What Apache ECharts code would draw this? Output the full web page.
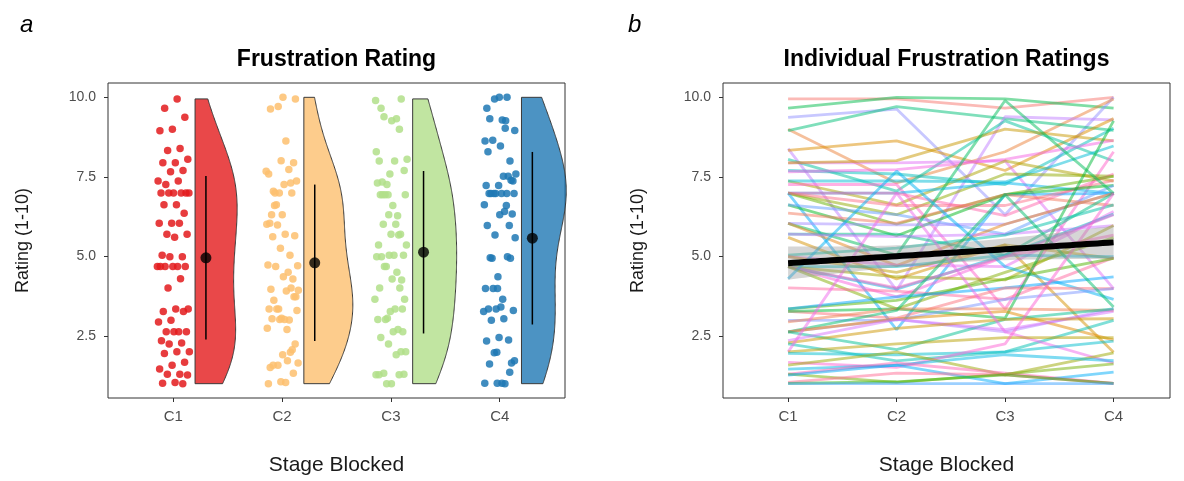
<!DOCTYPE html>
<html><head><meta charset="utf-8">
<script src="https://cdn.jsdelivr.net/npm/echarts@6/dist/echarts.min.js"></script>
<style>html,body{margin:0;padding:0;background:#fff}#c{width:1184px;height:481px}</style>
</head><body><div id="c"></div>
<script>
// ---------------- data ----------------
const categories = ['C1', 'C2', 'C3', 'C4'];
const yTicks = [2.5, 5, 7.5, 10];
const c1 = [9.95,9.66,9.37,9.0,8.95,8.39,8.33,8.05,7.94,7.94,7.70,7.66,7.37,7.37,7.26,6.99,6.99,6.99,6.99,6.99,6.99,6.62,6.62,6.36,6.04,6.04,6.04,5.70,5.70,5.60,5.04,4.99,4.99,4.68,4.68,4.68,4.68,4.68,4.68,4.30,4.01,3.35,3.35,3.27,3.27,2.99,2.94,2.63,2.63,2.63,2.63,2.35,2.28,2.25,2.0,2.0,1.95,1.67,1.58,1.46,1.30,1.30,1.27,1.04,1.01,1.0];
const c2 = [9.95,10.0,9.63,7.31,9.71,3.94,8.63,7.05,7.94,8.01,7.59,7.73,6.62,7.37,7.26,6.31,6.99,6.99,6.01,2.70,6.60,5.65,6.31,6.04,5.04,5.99,4.71,5.70,5.62,4.29,5.26,4.73,4.50,4.68,3.73,4.36,3.97,4.01,3.35,7.68,3.91,3.62,3.73,3.06,3.35,3.00,3.35,3.30,3.02,3.04,2.07,3.02,2.74,1.72,6.99,2.25,1.91,1.51,1.99,1.58,1.65,1.04,1.58,1.33,1.06,1.0];
const c3 = [9.66,9.95,6.31,8.29,9.33,9.39,7.70,9.26,8.00,9.00,7.26,8.05,8.00,7.34,3.35,7.59,7.31,6.28,6.94,6.94,6.60,6.94,5.70,6.94,9.90,6.01,6.01,5.04,5.70,5.36,5.67,4.68,5.36,5.04,4.99,4.26,5.04,4.99,4.50,4.68,3.65,4.29,4.01,4.01,3.06,3.65,3.35,6.94,2.63,3.27,3.02,2.70,3.02,2.00,2.63,2.45,2.00,2.25,1.28,1.91,1.33,1.30,1.0,1.28,1.28,1.0];
const c4 = [10.0,9.66,10.0,9.95,8.96,9.29,9.33,8.00,3.99,8.63,9.03,8.65,7.37,8.47,8.29,7.52,6.98,7.59,7.52,6.98,7.39,7.23,7.23,6.60,6.98,6.98,6.98,6.98,5.97,1.99,6.62,6.41,4.94,6.33,6.31,5.97,4.99,5.67,5.59,3.65,4.96,4.94,4.36,3.99,9.26,3.99,3.30,3.41,3.35,2.37,3.35,3.27,3.04,2.99,1.65,2.45,2.34,6.98,1.97,1.72,1.01,1.62,1.36,1.01,1.01,1.00];
const groupColors = ['#e31a1c', '#fdbf6f', '#b2df8a', '#1f78b4'];

// ---------------- helpers ----------------
const groups = [c1, c2, c3, c4];
const FONT = 'Liberation Sans, Arial, sans-serif';
function mean(a){ return a.reduce((s,v)=>s+v,0)/a.length; }
function sdev(a){ const m=mean(a); return Math.sqrt(a.reduce((s,v)=>s+(v-m)*(v-m),0)/(a.length-1)); }
function quant(a,p){ const s=[...a].sort((x,y)=>x-y); const h=(s.length-1)*p; const lo=Math.floor(h); const hi=Math.min(lo+1,s.length-1); return s[lo]+(h-lo)*(s[hi]-s[lo]); }
function bwNrd0(a){ const s=sdev(a); const iqr=(quant(a,0.75)-quant(a,0.25))/1.34; let lo=Math.min(s,iqr); if(!(lo>0)) lo=s; return 0.9*lo*Math.pow(a.length,-0.2); }
function rgba(hex, a){ const n=parseInt(hex.slice(1),16); return 'rgba('+((n>>16)&255)+','+((n>>8)&255)+','+(n&255)+','+a+')'; }
function hcl2hex(h, c, l){
  const hr=h*Math.PI/180, U=c*Math.cos(hr), V=c*Math.sin(hr);
  const Xn=95.047, Yn=100, Zn=108.883;
  const den=Xn+15*Yn+3*Zn, un=4*Xn/den, vn=9*Yn/den;
  const Y = l>8 ? Yn*Math.pow((l+16)/116,3) : Yn*l/903.3;
  const u=U/(13*l)+un, v=V/(13*l)+vn;
  const X=Y*9*u/(4*v), Z=Y*(12-3*u-20*v)/(4*v);
  const x=X/100, y=Y/100, z=Z/100;
  const lin=[3.2404542*x-1.5371385*y-0.4985314*z, -0.9692660*x+1.8760108*y+0.0415560*z, 0.0556434*x-0.2040259*y+1.0572252*z];
  return '#'+lin.map(t=>{ t=Math.max(0,Math.min(1,t)); t = t<=0.0031308 ? 12.92*t : 1.055*Math.pow(t,1/2.4)-0.055; return Math.round(t*255).toString(16).padStart(2,'0'); }).join('');
}

// densities (scale = area, shared maximum)
const NY = 256, BW_ADJUST = 1.25;
const dens = groups.map(a=>{
  const h=BW_ADJUST*bwNrd0(a), lo=Math.min(...a), hi=Math.max(...a), ys=[], ds=[];
  for(let k=0;k<NY;k++){ const y=lo+(hi-lo)*k/(NY-1); let s=0; for(const v of a){ const z=(y-v)/h; s+=Math.exp(-0.5*z*z); } ys.push(y); ds.push(s/(a.length*h*Math.sqrt(2*Math.PI))); }
  return {ys, ds};
});
const dmax = Math.max(...dens.map(d=>Math.max(...d.ds)));

// linear fit over all observations (stage index vs rating)
const fx=[], fy=[];
groups.forEach((a,g)=>a.forEach(v=>{ fx.push(g+1); fy.push(v); }));
const nF=fx.length, mx=mean(fx), my=mean(fy);
let sxx=0, sxy=0; for(let i=0;i<nF;i++){ sxx+=(fx[i]-mx)**2; sxy+=(fx[i]-mx)*(fy[i]-my); }
const slope=sxy/sxx, icpt=my-slope*mx;
let sse=0; for(let i=0;i<nF;i++){ sse+=(fy[i]-icpt-slope*fx[i])**2; }
const sRes=Math.sqrt(sse/(nF-2)), tCrit=1.969;
const band=[]; for(let k=0;k<=60;k++){ const x=1+3*k/60; const se=sRes*Math.sqrt(1/nF+(x-mx)**2/sxx); band.push([x, icpt+slope*x, tCrit*se]); }

const nP = c1.length;
// participant colours: hue wheel, assigned in a scrambled (ID) order
const hueColors = c1.map((_,i)=>hcl2hex(15+360*((i*23)%nP)/nP, 100, 65));
const jit = (i,g)=>((((i+1)*0.6180339887+g*0.29)%1)-0.5)*0.3;

// ---------------- axes ----------------
function yAxis(gi){
  return { type:'value', gridIndex:gi, min:0.55, max:10.45,
    axisLine:{show:false},
    axisTick:{show:true, customValues:yTicks, length:4, lineStyle:{color:'#333', width:1}},
    axisLabel:{customValues:yTicks, formatter:v=>Number(v).toFixed(1), color:'#4d4d4d', fontSize:14, margin:12, fontFamily:FONT},
    splitLine:{show:false},
    name:'Rating (1-10)', nameLocation:'middle', nameGap:76,
    nameTextStyle:{fontSize:18, color:'#1a1a1a', fontFamily:FONT} };
}
function xAxis(gi, max){
  return { type:'value', gridIndex:gi, min:0.4, max:max,
    axisLine:{show:false},
    axisTick:{show:true, customValues:[1,2,3,4], length:4, lineStyle:{color:'#333', width:1}},
    axisLabel:{customValues:[1,2,3,4], formatter:v=>categories[Math.round(v)-1], color:'#4d4d4d', fontSize:15, margin:11, fontFamily:FONT},
    splitLine:{show:false},
    name:'Stage Blocked', nameLocation:'middle', nameGap:57,
    nameTextStyle:{fontSize:21, color:'#1a1a1a', fontFamily:FONT} };
}

// ---------------- series ----------------
const series = [];
series.push({ type:'custom', xAxisIndex:0, yAxisIndex:0, silent:true, z:2,
  data: categories.map((c,g)=>[g, 5]),
  renderItem:(params, api)=>{
    const g=api.value(0), x0=g+1+0.2, d=dens[g];
    const pts=[api.coord([x0, d.ys[0]])];
    for(let k=0;k<d.ys.length;k++) pts.push(api.coord([x0+0.45*d.ds[k]/dmax, d.ys[k]]));
    pts.push(api.coord([x0, d.ys[d.ys.length-1]]));
    return { type:'polygon', shape:{points:pts}, style:{fill:rgba(groupColors[g],0.8), stroke:'#3a3a3a', lineWidth:1} };
  } });
groups.forEach((a,g)=>series.push({ type:'scatter', xAxisIndex:0, yAxisIndex:0, silent:true, z:3,
  symbolSize:7.5, itemStyle:{color:groupColors[g], opacity:0.85},
  data:a.map((v,i)=>[g+1+jit(i,g), v]) }));
series.push({ type:'custom', xAxisIndex:0, yAxisIndex:0, silent:true, z:4,
  data: groups.map((a,g)=>[g+1+0.3, mean(a), sdev(a)]),
  renderItem:(params, api)=>{
    const x=api.value(0), m=api.value(1), s=api.value(2);
    const p1=api.coord([x,m+s]), p2=api.coord([x,m-s]);
    return { type:'line', shape:{x1:p1[0],y1:p1[1],x2:p2[0],y2:p2[1]}, style:{stroke:'#000', lineWidth:1.5} };
  } });
series.push({ type:'scatter', xAxisIndex:0, yAxisIndex:0, silent:true, z:5, symbolSize:11,
  itemStyle:{color:'#000'}, data: groups.map((a,g)=>[g+1+0.3, mean(a)]) });
c1.forEach((_,i)=>series.push({ type:'line', xAxisIndex:1, yAxisIndex:1, silent:true, z:2,
  symbol:'none', lineStyle:{width:2.8, color:hueColors[i], opacity:0.5},
  data:[[1,c1[i]],[2,c2[i]],[3,c3[i]],[4,c4[i]]] }));
series.push({ type:'custom', xAxisIndex:1, yAxisIndex:1, silent:true, z:3,
  data:[[1,5]],
  renderItem:(params, api)=>{
    const up=band.map(b=>api.coord([b[0], b[1]+b[2]]));
    const lo=band.slice().reverse().map(b=>api.coord([b[0], b[1]-b[2]]));
    return { type:'polygon', shape:{points:up.concat(lo)}, style:{fill:'rgba(153,153,153,0.4)'} };
  } });
series.push({ type:'line', xAxisIndex:1, yAxisIndex:1, silent:true, z:4, symbol:'none',
  lineStyle:{width:6, color:'#000'}, data:band.map(b=>[b[0], b[1]]) });

// ---------------- chart ----------------
const chart = echarts.init(document.getElementById('c'), null, {renderer:'canvas'});
chart.setOption({
  animation:false,
  backgroundColor:'#fff',
  textStyle:{fontFamily:FONT},
  grid:[
    {left:108, top:83, width:457, height:315, show:true, borderColor:'#333', borderWidth:1, backgroundColor:'transparent'},
    {left:723, top:83, width:447, height:315, show:true, borderColor:'#333', borderWidth:1, backgroundColor:'transparent'}
  ],
  xAxis:[xAxis(0,4.6), xAxis(1,4.52)],
  yAxis:[yAxis(0), yAxis(1)],
  graphic:[
    {type:'text', x:20, y:25, style:{text:'a', font:'italic 24px '+FONT, fill:'#000', align:'left', verticalAlign:'middle'}},
    {type:'text', x:628, y:25, style:{text:'b', font:'italic 24px '+FONT, fill:'#000', align:'left', verticalAlign:'middle'}},
    {type:'text', x:336.5, y:60, style:{text:'Frustration Rating', font:'bold 23px '+FONT, fill:'#000', align:'center', verticalAlign:'middle'}},
    {type:'text', x:946.5, y:60, style:{text:'Individual Frustration Ratings', font:'bold 23px '+FONT, fill:'#000', align:'center', verticalAlign:'middle'}}
  ],
  series:series
});
</script>
</body></html>
